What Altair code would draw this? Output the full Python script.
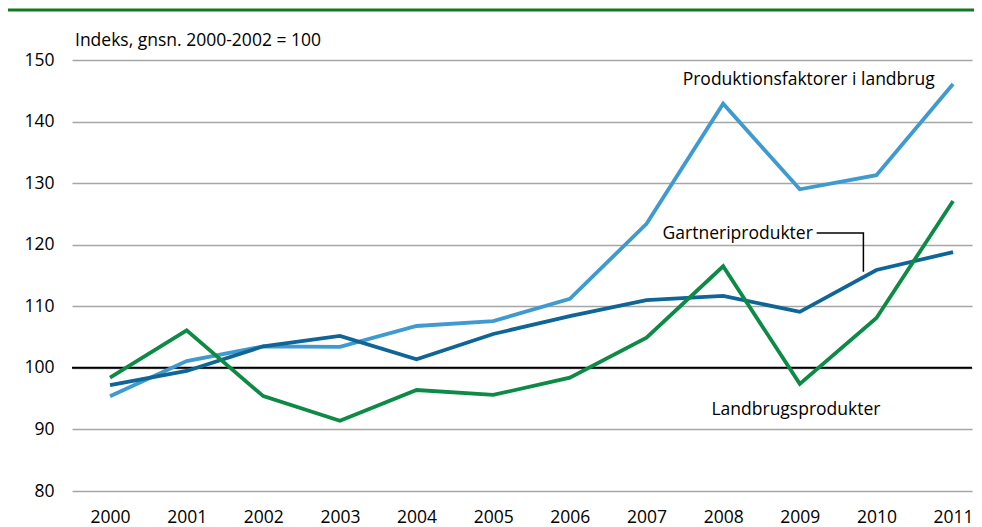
import altair as alt
import pandas as pd

years = list(range(2000, 2012))
produktionsfaktorer = [95.4, 101.1, 103.5, 103.4, 106.8, 107.6, 111.2, 123.4, 142.9, 129.0, 131.3, 146.1]
gartneri = [97.2, 99.5, 103.5, 105.2, 101.4, 105.5, 108.4, 111.0, 111.7, 109.1, 115.9, 118.8]
landbrug = [98.4, 106.1, 95.4, 91.4, 96.4, 95.6, 98.4, 104.9, 116.5, 97.4, 108.1, 127.1]

series_names = ["Produktionsfaktorer i landbrug", "Gartneriprodukter", "Landbrugsprodukter"]
series_colors = ["#3f9ad0", "#0f6596", "#0d8a45"]

rows = []
for name, vals in zip(series_names, [produktionsfaktorer, gartneri, landbrug]):
    for y, v in zip(years, vals):
        rows.append({"year": y, "value": v, "series": name})
df = pd.DataFrame(rows)

FONT = "Open Sans"
FS = 17.5
W, H = 900, 431
PL, PR = 64, 2

xs = alt.Scale(domain=[1999.504, 2011.247], nice=False, zero=False)
ys = alt.Scale(domain=[80, 150], nice=False, zero=False)

base = alt.Chart(df)

lines = base.mark_line(strokeWidth=3.8, strokeJoin="miter").encode(
    x=alt.X("year:Q", scale=xs,
            axis=alt.Axis(values=years, format="d", title=None, grid=False, domain=False,
                          ticks=False, labelPadding=17, labelFontSize=FS, labelFont=FONT,
                          labelColor="#000")),
    y=alt.Y("value:Q", scale=ys,
            axis=alt.Axis(values=[80, 90, 100, 110, 120, 130, 140, 150], title=None,
                          grid=True, gridColor="#a6a6a6", gridWidth=1.6, domain=False,
                          ticks=False, labelPadding=18, labelFontSize=FS, labelFont=FONT,
                          labelColor="#000")),
    color=alt.Color("series:N", scale=alt.Scale(domain=series_names, range=series_colors), legend=None),
    detail="series:N",
)

ref = alt.Chart(pd.DataFrame({"v": [100]})).mark_rule(color="#000", strokeWidth=2).encode(
    y=alt.Y("v:Q", scale=ys)
)

lab_df = pd.DataFrame({
    "year": [2010.76, 2009.17, 2008.95],
    "value": [146.75, 121.8, 93.2],
    "text": ["Produktionsfaktorer i landbrug", "Gartneriprodukter", "Landbrugsprodukter"],
    "align": ["right", "right", "center"],
})
labels_r = alt.Chart(lab_df[lab_df["align"] == "right"]).mark_text(
    align="right", baseline="middle", fontSize=FS, font=FONT, color="#000"
).encode(x=alt.X("year:Q", scale=xs), y=alt.Y("value:Q", scale=ys), text="text:N")
labels_c = alt.Chart(lab_df[lab_df["align"] == "center"]).mark_text(
    align="center", baseline="middle", fontSize=FS, font=FONT, color="#000"
).encode(x=alt.X("year:Q", scale=xs), y=alt.Y("value:Q", scale=ys), text="text:N")

leader_df = pd.DataFrame({"year": [2009.22, 2009.83, 2009.83], "value": [121.9, 121.9, 115.6], "o": [0, 1, 2]})
leader = alt.Chart(leader_df).mark_line(color="#000", strokeWidth=1.5).encode(
    x=alt.X("year:Q", scale=xs), y=alt.Y("value:Q", scale=ys), order="o:Q"
)

title = alt.Chart(pd.DataFrame({"t": ["Indeks, gnsn. 2000-2002 = 100"]})).mark_text(
    align="left", baseline="middle", fontSize=FS, font=FONT, color="#000"
).encode(x=alt.value(3), y=alt.value(-19), text="t:N")

topline = alt.Chart(pd.DataFrame({"a": [0]})).mark_rule(color="#117a1e", strokeWidth=3).encode(
    x=alt.value(-PL), x2=alt.value(W + PR), y=alt.value(-50)
)

chart = alt.layer(ref, lines, leader, labels_r, labels_c, title, topline).properties(
    width=W, height=H,
    autosize=alt.AutoSizeParams(type="none"),
    padding={"left": PL, "top": 52, "right": PR, "bottom": 36},
).configure_view(stroke=None)

chart.save("out.html", embed_options={"renderer": "svg", "actions": False})
